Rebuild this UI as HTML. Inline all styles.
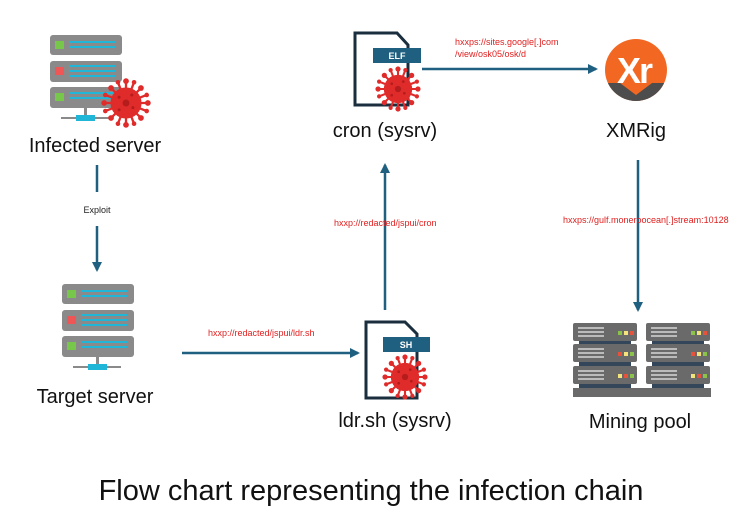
<!DOCTYPE html>
<html><head><meta charset="utf-8"><style>
html,body{margin:0;padding:0;background:#fff;}
svg{display:block;}
text{font-family:"Liberation Sans",Arial,sans-serif;}
</style></head><body>
<svg width="754" height="515" viewBox="0 0 754 515" xmlns="http://www.w3.org/2000/svg">
<defs>
<g id="virus">
  <g stroke="#e02b2b" stroke-width="2">
    <line x1="0" y1="-19" x2="0" y2="19"/><line x1="-19" y1="0" x2="19" y2="0"/>
    <line x1="-13" y1="-13" x2="13" y2="13"/><line x1="-13" y1="13" x2="13" y2="-13"/>
    <line x1="-7" y1="-18" x2="7" y2="18"/><line x1="-18" y1="-7" x2="18" y2="7"/>
    <line x1="7" y1="-18" x2="-7" y2="18"/><line x1="18" y1="-7" x2="-18" y2="7"/>
  </g>
  <g fill="#e02b2b">
    <circle r="13.5"/>
    <circle cx="0" cy="-19" r="2.5"/><circle cx="0" cy="19" r="2.5"/><circle cx="-19" cy="0" r="2.5"/><circle cx="19" cy="0" r="2.5"/>
    <circle cx="-13" cy="-13" r="2.5"/><circle cx="13" cy="13" r="2.5"/><circle cx="-13" cy="13" r="2.5"/><circle cx="13" cy="-13" r="2.5"/>
    <circle cx="-7" cy="-18" r="2"/><circle cx="7" cy="18" r="2"/><circle cx="-18" cy="-7" r="2"/><circle cx="18" cy="7" r="2"/>
    <circle cx="7" cy="-18" r="2"/><circle cx="-7" cy="18" r="2"/><circle cx="18" cy="-7" r="2"/><circle cx="-18" cy="7" r="2"/>
  </g>
  <g fill="#b51c1c"><circle cx="0" cy="0" r="3"/><circle cx="-6" cy="-5" r="1.3"/><circle cx="6" cy="4" r="1.3"/><circle cx="5" cy="-7" r="1.3"/><circle cx="-6" cy="6" r="1.3"/></g>
</g>
<g id="server">
  <rect x="0" y="0" width="72" height="20" rx="3" fill="#8a8a8a"/>
  <rect x="5" y="6" width="9" height="8" fill="#77c84a"/>
  <rect x="19" y="6" width="46" height="2" fill="#20b6d8"/><rect x="19" y="11" width="46" height="2" fill="#20b6d8"/>
  <rect x="0" y="26" width="72" height="21" rx="3" fill="#8a8a8a"/>
  <rect x="5" y="32" width="9" height="8" fill="#f05656"/>
  <rect x="19" y="30" width="46" height="2" fill="#20b6d8"/><rect x="19" y="35" width="46" height="2" fill="#20b6d8"/><rect x="19" y="40" width="46" height="2" fill="#20b6d8"/>
  <rect x="0" y="52" width="72" height="21" rx="3" fill="#8a8a8a"/>
  <rect x="5" y="58" width="9" height="8" fill="#77c84a"/>
  <rect x="19" y="57" width="46" height="2" fill="#20b6d8"/><rect x="19" y="62" width="46" height="2" fill="#20b6d8"/>
  <rect x="34" y="73" width="3" height="10" fill="#8a8a8a"/>
  <rect x="11" y="82" width="48" height="2" fill="#8a8a8a"/>
  <rect x="26" y="80" width="19" height="6" fill="#20b6d8"/>
</g>
<g id="rack">
  <rect x="0" y="0" width="64" height="18" rx="2" fill="#6a6a6a"/>
  <rect x="6" y="18" width="52" height="4" fill="#34465a"/>
  <g fill="#bbb"><rect x="5" y="4" width="26" height="2"/><rect x="5" y="8" width="26" height="2"/><rect x="5" y="12" width="26" height="2"/></g>
</g>
<marker id="ah" markerWidth="10" markerHeight="10" refX="8" refY="5" orient="auto" markerUnits="userSpaceOnUse">
  <path d="M0,0 L10,5 L0,10 z" fill="#1f5f7f"/>
</marker>
</defs>

<use href="#server" x="50" y="35"/>
<use href="#virus" transform="translate(126,103) scale(1.15)"/>
<text x="95" y="152" font-size="20" text-anchor="middle" fill="#111">Infected server</text>

<line x1="97" y1="165" x2="97" y2="192" stroke="#1f5f7f" stroke-width="2.5"/>
<text x="97" y="213" font-size="9" text-anchor="middle" fill="#222">Exploit</text>
<line x1="97" y1="226" x2="97" y2="270" stroke="#1f5f7f" stroke-width="2.5" marker-end="url(#ah)"/>

<use href="#server" x="62" y="284"/>
<text x="95" y="403" font-size="20" text-anchor="middle" fill="#111">Target server</text>

<line x1="182" y1="353" x2="358" y2="353" stroke="#1f5f7f" stroke-width="2.5" marker-end="url(#ah)"/>
<text x="208" y="336" font-size="9" fill="#e02020">hxxp://redacted/jspui/ldr.sh</text>

<path d="M366,322 L405,322 L417,334 L417,398 L366,398 Z" fill="#fff" stroke="#1a2e3e" stroke-width="3"/>
<rect x="383" y="337" width="47" height="15" fill="#1f5f7f"/>
<text x="406" y="348" font-size="9" fill="#fff" text-anchor="middle" font-weight="bold">SH</text>
<use href="#virus" transform="translate(405,377) scale(1.05)"/>
<text x="395" y="427" font-size="20" text-anchor="middle" fill="#111">ldr.sh (sysrv)</text>

<line x1="385" y1="310" x2="385" y2="165" stroke="#1f5f7f" stroke-width="2.5" marker-end="url(#ah)"/>
<text x="334" y="226" font-size="9" fill="#e02020">hxxp://redacted/jspui/cron</text>

<path d="M355,33 L397,33 L408,45 L408,105 L355,105 Z" fill="#fff" stroke="#1a2e3e" stroke-width="3"/>
<rect x="373" y="48" width="48" height="15" fill="#1f5f7f"/>
<text x="397" y="59" font-size="9" fill="#fff" text-anchor="middle" font-weight="bold">ELF</text>
<use href="#virus" transform="translate(398,89) scale(1.05)"/>
<text x="385" y="137" font-size="20" text-anchor="middle" fill="#111">cron (sysrv)</text>

<line x1="422" y1="69" x2="596" y2="69" stroke="#1f5f7f" stroke-width="2.5" marker-end="url(#ah)"/>
<text x="455" y="45" font-size="9" fill="#e02020">hxxps://sites.google[.]com</text>
<text x="455" y="57" font-size="9" fill="#e02020">/view/osk05/osk/d</text>

<clipPath id="cc"><circle cx="636" cy="70" r="31"/></clipPath>
<g clip-path="url(#cc)">
  <rect x="600" y="35" width="75" height="75" fill="#f26822"/>
  <path d="M600,83 L620,83 L636,95 L652,83 L675,83 L675,110 L600,110 Z" fill="#4d4d4d"/>
</g>
<text x="634" y="83" font-size="36" font-weight="bold" fill="#fff" text-anchor="middle" letter-spacing="-2">Xr</text>
<text x="636" y="137" font-size="20" text-anchor="middle" fill="#111">XMRig</text>

<line x1="638" y1="160" x2="638" y2="310" stroke="#1f5f7f" stroke-width="2.5" marker-end="url(#ah)"/>
<text x="563" y="223" font-size="9" fill="#e02020">hxxps://gulf.moneroocean[.]stream:10128</text>

<use href="#rack" x="573" y="323"/><use href="#rack" x="573" y="344"/><use href="#rack" x="573" y="366"/>
<use href="#rack" x="646" y="323"/><use href="#rack" x="646" y="344"/><use href="#rack" x="646" y="366"/>
<g>
  <rect x="618" y="331" width="4" height="4" fill="#8bc34a"/><rect x="624" y="331" width="4" height="4" fill="#f4e27a"/><rect x="630" y="331" width="4" height="4" fill="#e5533d"/>
  <rect x="618" y="352" width="4" height="4" fill="#e5533d"/><rect x="624" y="352" width="4" height="4" fill="#f4e27a"/><rect x="630" y="352" width="4" height="4" fill="#8bc34a"/>
  <rect x="618" y="374" width="4" height="4" fill="#f4e27a"/><rect x="624" y="374" width="4" height="4" fill="#e5533d"/><rect x="630" y="374" width="4" height="4" fill="#8bc34a"/>
  <rect x="691" y="331" width="4" height="4" fill="#8bc34a"/><rect x="697" y="331" width="4" height="4" fill="#f4e27a"/><rect x="703" y="331" width="4" height="4" fill="#e5533d"/>
  <rect x="691" y="352" width="4" height="4" fill="#e5533d"/><rect x="697" y="352" width="4" height="4" fill="#f4e27a"/><rect x="703" y="352" width="4" height="4" fill="#8bc34a"/>
  <rect x="691" y="374" width="4" height="4" fill="#f4e27a"/><rect x="697" y="374" width="4" height="4" fill="#e5533d"/><rect x="703" y="374" width="4" height="4" fill="#8bc34a"/>
</g>
<rect x="573" y="388" width="138" height="9" fill="#6a6a6a"/>
<text x="640" y="428" font-size="20" text-anchor="middle" fill="#111">Mining pool</text>

<text x="371" y="500" font-size="29" text-anchor="middle" fill="#111">Flow chart representing the infection chain</text>
</svg>
</body></html>
